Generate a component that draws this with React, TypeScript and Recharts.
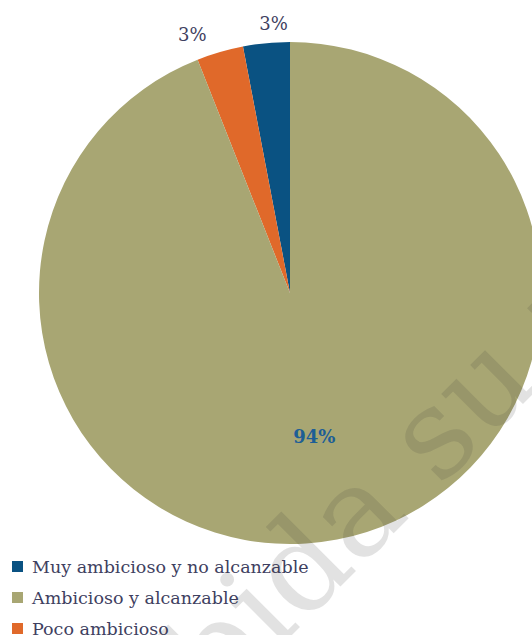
import React from 'react';
import { PieChart, Pie, Cell } from 'recharts';

// slice order as drawn, counter-clockwise from 12 o'clock
const sliceNames = ['Muy ambicioso y no alcanzable', 'Poco ambicioso', 'Ambicioso y alcanzable'];
const sliceValues = [3, 3, 94];
const sliceColors = ['#0a5282', '#e0692a', '#a8a673'];

// legend order as in the reference
const legendNames = ['Muy ambicioso y no alcanzable', 'Ambicioso y alcanzable', 'Poco ambicioso'];
const legendColors = ['#0a5282', '#a8a673', '#e0692a'];

const watermark = 'Prohibida su reproducción';

const FONT = '"DejaVu Serif", serif';
const RAD = Math.PI / 180;

const renderLabel = (props: any) => {
  const { cx, cy, midAngle, outerRadius, index, value } = props;
  const inside = index === 2;
  const r = inside ? outerRadius * 0.58 : outerRadius + 20;
  const nudge = [9, -22, -3][index];
  const x = cx + r * Math.cos(-midAngle * RAD) + nudge;
  const y = cy + r * Math.sin(-midAngle * RAD) + (index === 1 ? 2 : 0);
  return (
    <text
      x={x}
      y={y}
      textAnchor="middle"
      dominantBaseline="central"
      fontFamily={FONT}
      fontSize={18}
      fontWeight={inside ? 'bold' : 'normal'}
      fill={inside ? '#1d5e96' : '#3e4060'}
    >
      {`${value}%`}
    </text>
  );
};

export default function App() {
  const data = sliceNames.map((name, i) => ({ name, value: sliceValues[i] }));
  return (
    <div style={{ position: 'fixed', left: 0, top: 0, width: 532, height: 635, overflow: 'hidden', background: '#fff' }}>
      <PieChart width={532} height={635} margin={{ top: 0, right: 0, bottom: 0, left: 0 }}>
        <Pie
          data={data}
          dataKey="value"
          cx={290}
          cy={293}
          outerRadius={251}
          startAngle={90}
          endAngle={450}
          stroke="none"
          labelLine={false}
          label={renderLabel}
          isAnimationActive={false}
        >
          {data.map((entry, index) => (
            <Cell key={`cell-${index}`} fill={sliceColors[index]} />
          ))}
        </Pie>
      </PieChart>
      <div style={{ position: 'absolute', left: 12, top: 551 }}>
        {legendNames.map((name, i) => (
          <div key={name} style={{ display: 'flex', alignItems: 'center', height: 31 }}>
            <span style={{ width: 11, height: 11, background: legendColors[i], marginRight: 9 }} />
            <span style={{ fontFamily: FONT, fontSize: 17.5, color: '#3e4060' }}>{name}</span>
          </div>
        ))}
      </div>
      <svg
        width={532}
        height={635}
        style={{ position: 'absolute', left: 0, top: 0, pointerEvents: 'none' }}
      >
        <text
          x={-23}
          y={950}
          transform="rotate(-45 -23 950)"
          fontFamily={FONT}
          fontSize={125}
          fill="rgba(62,62,62,0.15)"
        >
          {watermark}
        </text>
      </svg>
    </div>
  );
}
